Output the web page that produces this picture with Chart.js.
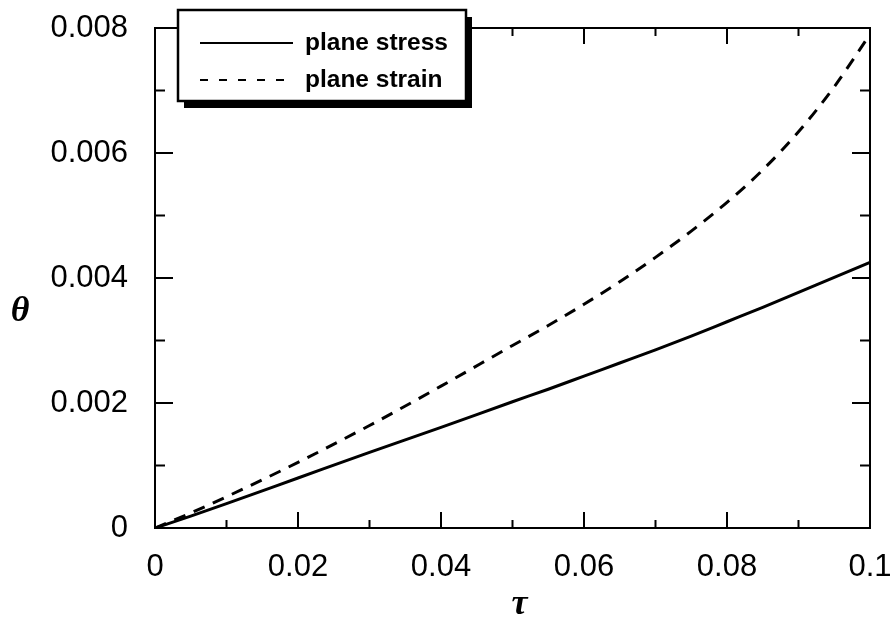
<!DOCTYPE html>
<html>
<head>
<meta charset="utf-8">
<script src="https://cdn.jsdelivr.net/npm/chart.js@4"></script>
<style>
  html, body { margin: 0; padding: 0; background: #fff; }
  #wrap { width: 894px; height: 624px; }
</style>
</head>
<body>
<div id="wrap"><canvas id="chart" width="894" height="624"></canvas></div>
<script>
// ---- data ----
const tau = [0, 0.005, 0.01, 0.02, 0.03, 0.04, 0.05, 0.055, 0.06, 0.065, 0.07, 0.075, 0.08, 0.085, 0.09, 0.095, 0.1];
const planeStress = [0, 0.00019, 0.00039, 0.00080, 0.00121, 0.00161, 0.00202, 0.00222, 0.00243, 0.00264, 0.00285, 0.00307, 0.00330, 0.00353, 0.00377, 0.00401, 0.00425];
const planeStrain = [0, 0.00024, 0.00050, 0.00105, 0.00164, 0.00227, 0.00292, 0.00324, 0.00358, 0.00394, 0.00433, 0.00475, 0.00521, 0.00573, 0.00634, 0.00706, 0.00790];

const xTicks = [0, 0.02, 0.04, 0.06, 0.08, 0.1];
const xTickLabels = ['0', '0.02', '0.04', '0.06', '0.08', '0.1'];
const xMinor = [0.01, 0.03, 0.05, 0.07, 0.09];
const yTicks = [0, 0.002, 0.004, 0.006, 0.008];
const yTickLabels = ['0', '0.002', '0.004', '0.006', '0.008'];
const yMinor = [0.001, 0.003, 0.005, 0.007];

const FONT = '"Liberation Sans", Arial, sans-serif';

const pts = arr => tau.map((t, i) => ({ x: t, y: arr[i] }));

// frame, inward ticks, axis symbols and the shadowed legend box
const decor = {
  id: 'decor',
  afterDatasetsDraw(chart) {
    const { ctx, chartArea: a, scales: { x, y } } = chart;
    ctx.save();
    ctx.strokeStyle = '#000';
    ctx.lineWidth = 2;
    ctx.setLineDash([]);
    ctx.strokeRect(a.left, a.top, a.right - a.left, a.bottom - a.top);

    ctx.beginPath();
    const xt = (v, len) => {
      const px = x.getPixelForValue(v);
      ctx.moveTo(px, a.bottom); ctx.lineTo(px, a.bottom - len);
      ctx.moveTo(px, a.top); ctx.lineTo(px, a.top + len);
    };
    const yt = (v, len) => {
      const py = y.getPixelForValue(v);
      ctx.moveTo(a.left, py); ctx.lineTo(a.left + len, py);
      ctx.moveTo(a.right, py); ctx.lineTo(a.right - len, py);
    };
    xTicks.forEach(v => xt(v, 16));
    xMinor.forEach(v => xt(v, 8));
    yTicks.forEach(v => yt(v, 18));
    yMinor.forEach(v => yt(v, 10));
    ctx.stroke();

    // axis symbols
    ctx.fillStyle = '#000';
    ctx.textAlign = 'center';
    ctx.textBaseline = 'middle';
    ctx.font = 'italic bold 36px "Liberation Serif", serif';
    ctx.fillText('\u03b8', 20, 312);
    ctx.fillText('\u03c4', (a.left + a.right) / 2 + 7, 605);

    // legend
    const bx = 178, by = 10, bw = 288, bh = 91;
    ctx.fillStyle = '#000';
    ctx.fillRect(bx + 6, by + 7, bw, bh);
    ctx.fillStyle = '#fff';
    ctx.fillRect(bx, by, bw, bh);
    ctx.lineWidth = 2.5;
    ctx.strokeRect(bx, by, bw, bh);

    ctx.font = 'bold 24.5px ' + FONT;
    ctx.textAlign = 'left';
    chart.data.datasets.forEach((ds, i) => {
      const ly = 43 + i * 37;
      ctx.beginPath();
      ctx.lineWidth = 2;
      ctx.setLineDash(ds.borderDash && ds.borderDash.length ? [8, 11] : []);
      ctx.moveTo(200, ly); ctx.lineTo(293, ly);
      ctx.stroke();
      ctx.setLineDash([]);
      ctx.fillStyle = '#000';
      ctx.fillText(ds.label, 305, ly);
    });
    ctx.restore();
  }
};

new Chart(document.getElementById('chart'), {
  type: 'scatter',
  data: {
    datasets: [
      {
        label: 'plane stress',
        data: pts(planeStress),
        showLine: true,
        borderColor: '#000',
        borderWidth: 3,
        pointRadius: 0,
        cubicInterpolationMode: 'monotone'
      },
      {
        label: 'plane strain',
        data: pts(planeStrain),
        showLine: true,
        borderColor: '#000',
        borderWidth: 3,
        borderDash: [12, 9],
        pointRadius: 0,
        cubicInterpolationMode: 'monotone'
      }
    ]
  },
  options: {
    responsive: false,
    animation: false,
    layout: { padding: { top: 28, right: 24, left: 0, bottom: 0 } },
    plugins: { legend: { display: false }, tooltip: { enabled: false } },
    scales: {
      x: {
        type: 'linear',
        min: 0, max: 0.1,
        afterBuildTicks: s => { s.ticks = xTicks.map(v => ({ value: v })); },
        afterFit: s => { s.height = 96; s.paddingLeft = 0; s.paddingRight = 0; },
        grid: { display: false, drawTicks: false },
        border: { display: true, color: '#000', width: 2 },
        ticks: {
          padding: 21,
          color: '#000',
          font: { family: FONT, size: 31 },
          maxRotation: 0,
          callback: (v, i) => xTickLabels[i]
        }
      },
      y: {
        type: 'linear',
        min: 0, max: 0.008,
        afterBuildTicks: s => { s.ticks = yTicks.map(v => ({ value: v })); },
        afterFit: s => { s.width = 155; s.paddingTop = 0; s.paddingBottom = 0; },
        grid: { display: false, drawTicks: false },
        border: { display: true, color: '#000', width: 2 },
        ticks: {
          padding: 27,
          color: '#000',
          font: { family: FONT, size: 31 },
          callback: (v, i) => yTickLabels[i]
        }
      }
    }
  },
  plugins: [decor]
});
</script>
</body>
</html>
